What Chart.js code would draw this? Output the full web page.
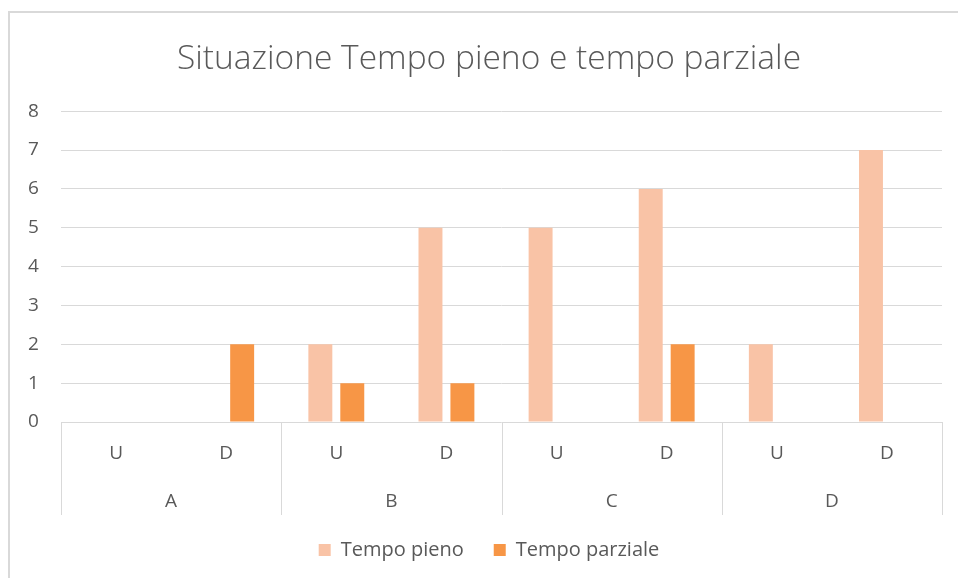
<!DOCTYPE html>
<html>
<head>
<meta charset="utf-8">
<script src="https://cdn.jsdelivr.net/npm/chart.js@4"></script>
<style>
  body { margin: 0; background: #fff; overflow: hidden; }
  #frame {
    position: absolute; left: 8px; top: 11px;
    width: 1000px; height: 600px;
    border: 2px solid #d9d9d9;
  }
  #wrap { position: absolute; left: 0; top: 0; width: 978px; height: 578px; }
</style>
</head>
<body>
<div id="frame"></div>
<div id="wrap"><canvas id="myBarChart"></canvas></div>
<script>
// Data
const subLabels = ['U', 'D', 'U', 'D', 'U', 'D', 'U', 'D'];
const groupLabels = ['A', 'B', 'C', 'D'];
const tempoPieno = [0, 0, 2, 5, 5, 6, 2, 7];
const tempoParziale = [0, 2, 1, 1, 0, 2, 0, 0];
const yTicks = [0, 1, 2, 3, 4, 5, 6, 7, 8];

const textColor = '#595959';
const gridColor = '#d9d9d9';
const tickFont = { family: 'Open Sans', size: 19 };

// Draw the separators between the groups under the axis
const groupLines = {
  id: 'groupLines',
  afterDraw(chart) {
    const c = chart.ctx;
    const area = chart.chartArea;
    const step = (area.right - area.left) / groupLabels.length;
    c.save();
    c.strokeStyle = gridColor;
    c.lineWidth = 1;
    for (let i = 0; i <= groupLabels.length; i++) {
      const px = Math.round(area.left + step * i) + 0.5;
      c.beginPath();
      c.moveTo(px, area.bottom);
      c.lineTo(px, 515);
      c.stroke();
    }
    c.restore();
  },
};

const ctx = document.getElementById('myBarChart').getContext('2d');
const myBarChart = new Chart(ctx, {
  type: 'bar',
  data: {
    labels: subLabels,
    datasets: [
      {
        label: 'Tempo pieno',
        data: tempoPieno,
        backgroundColor: '#f9c3a6',
        categoryPercentage: 0.58,
        barPercentage: 0.75,
      },
      {
        label: 'Tempo parziale',
        data: tempoParziale,
        backgroundColor: '#f79646',
        categoryPercentage: 0.58,
        barPercentage: 0.75,
      },
    ],
  },
  options: {
    responsive: true,
    maintainAspectRatio: false,
    animation: false,
    layout: { padding: { left: 36, right: 36, top: 0, bottom: 8 } },
    scales: {
      x: {
        grid: { display: false, drawTicks: false },
        border: { display: false },
        ticks: { color: textColor, padding: 20, font: tickFont },
        afterFit: (scale) => { scale.height = 49; },
      },
      x2: {
        type: 'category',
        labels: groupLabels,
        position: 'bottom',
        offset: true,
        grid: { display: false, drawTicks: false },
        border: { display: false },
        ticks: { color: textColor, padding: 19, font: tickFont },
        afterFit: (scale) => { scale.height = 39; },
      },
      y: {
        min: 0,
        max: 8,
        afterBuildTicks: (scale) => {
          scale.ticks = yTicks.map((v) => ({ value: v }));
        },
        afterFit: (scale) => { scale.width = 25; },
        grid: { color: gridColor, drawTicks: false },
        border: { display: false },
        // mirror keeps the labels from being clipped to the narrow axis box
        ticks: { color: textColor, mirror: true, padding: -33, font: tickFont },
      },
    },
    plugins: {
      title: {
        display: true,
        text: 'Situazione Tempo pieno e tempo parziale',
        color: textColor,
        font: { family: 'Open Sans', size: 33.5, weight: 300 },
        padding: { top: 39, bottom: 32 },
      },
      legend: {
        position: 'bottom',
        labels: {
          color: textColor,
          boxWidth: 12,
          boxHeight: 12,
          padding: 30,
          font: { family: 'Open Sans', size: 20 },
        },
      },
      tooltip: { enabled: false },
    },
  },
  plugins: [groupLines],
});
</script>
</body>
</html>
